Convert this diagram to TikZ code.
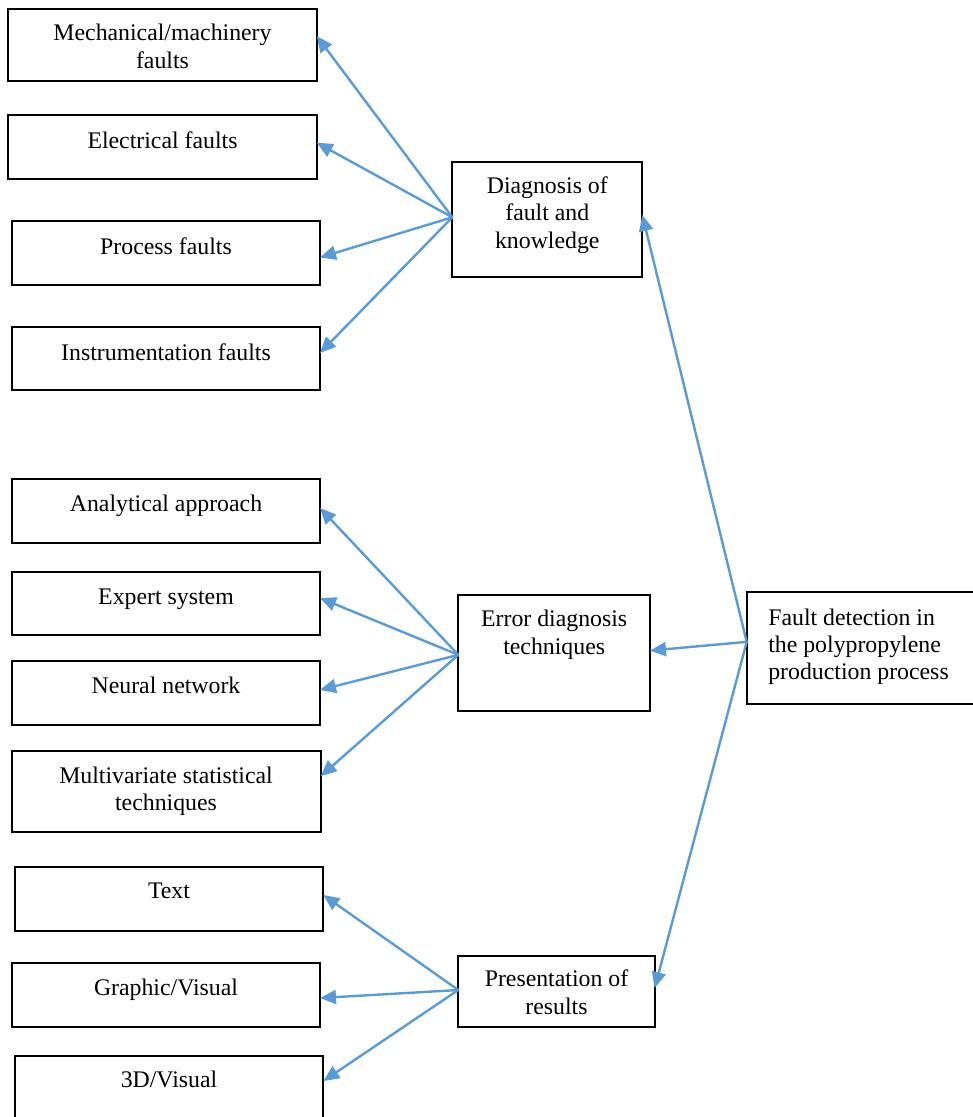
\documentclass[tikz,border=0pt]{standalone}
\usepackage{fontspec}
\setmainfont{Liberation Serif}
\usetikzlibrary{arrows.meta}
\definecolor{arrblue}{HTML}{5B9BD5}
\tikzset{
  box/.style={draw=black, line width=2pt, inner sep=0pt, outer sep=0pt, rectangle},
  txt/.style={inner sep=0pt, outer sep=0pt, anchor=base, font=\fontsize{23.8}{27.4}\selectfont},
  arr/.style={draw=arrblue, line width=2.4pt, -{Triangle[length=16pt,width=14pt]}},
}
\newcommand\bx[5]{\node[box, minimum width={(#4-#2)*1pt}, minimum height={(#5-#3)*1pt}] (#1) at ({(#2+#4)/2},{(#3+#5)/2}) {};}
\newcommand\tx[4]{\node[txt] (#1) at (#2,#3) {\begin{tabular}[t]{@{}c@{}}#4\end{tabular}};}
\begin{document}
\begin{tikzpicture}[x=1pt,y=-1pt]
\useasboundingbox (0,0) rectangle (973,1117);
% boxes
\bx{mech}{8.3}{9}{316.7}{80.7}
\bx{elec}{8.3}{115}{316.7}{179}
\bx{proc}{12}{221}{320}{285}
\bx{inst}{12}{327}{320}{390}
\bx{diag}{452.3}{161.7}{642.3}{276.7}
\bx{anal}{12}{479}{320}{543}
\bx{expert}{12}{572}{320}{635}
\bx{neural}{12}{661}{320}{725}
\bx{multi}{11.7}{750.7}{320.7}{831.7}
\bx{error}{458.3}{595}{650}{710.7}
\bx{fault}{746.7}{592.3}{980}{704}
\bx{text}{15}{866.7}{323.3}{930.7}
\bx{graphic}{12}{962.7}{320}{1026.7}
\bx{threed}{15}{1055.7}{323.3}{1125}
\bx{pres}{458.3}{955.7}{654.7}{1027.3}
% texts
\tx{mech-t}{162.5}{40.7}{Mechanical/machinery\\faults}
\tx{elec-t}{162.5}{148}{Electrical faults}
\tx{proc-t}{166}{254}{Process faults}
\tx{inst-t}{166}{360}{Instrumentation faults}
\tx{diag-t}{547.3}{193.3}{Diagnosis of\\fault and\\knowledge}
\tx{anal-t}{166}{511}{Analytical approach}
\tx{expert-t}{166}{604}{Expert system}
\tx{neural-t}{166}{693}{Neural network}
\tx{multi-t}{166}{783.3}{Multivariate statistical\\techniques}
\tx{error-t}{554.2}{626.7}{Error diagnosis\\techniques}
\node[txt, anchor=base west] (fault-t) at (768.3,625) {\begin{tabular}[t]{@{}l@{}}Fault detection in\\the polypropylene\\production process\end{tabular}};
\tx{text-t}{169}{898.7}{Text}
\tx{graphic-t}{166}{995}{Graphic/Visual}
\tx{threed-t}{169}{1087.7}{3D/Visual}
\tx{pres-t}{556.5}{986.7}{Presentation of\\results}
% connectors
\draw[arr] ([yshift=1.9pt]diag.west) -- ([yshift=8.8pt]mech.east);
\draw[arr] ([yshift=1.9pt]diag.west) -- ([yshift=4.3pt]elec.east);
\draw[arr] ([yshift=1.9pt]diag.west) -- ([yshift=-4.5pt]proc.east);
\draw[arr] ([yshift=1.9pt]diag.west) -- ([yshift=5.5pt]inst.east);
\draw[arr] ([yshift=-2pt]error.west) -- ([yshift=3pt]anal.east);
\draw[arr] ([yshift=-2pt]error.west) -- ([yshift=5.5pt]expert.east);
\draw[arr] ([yshift=-2pt]error.west) -- ([yshift=3pt]neural.east);
\draw[arr] ([yshift=-2pt]error.west) -- ([yshift=15pt]multi.east);
\draw[arr] ([yshift=1.5pt]pres.west) -- ([yshift=3.7pt]text.east);
\draw[arr] ([yshift=1.5pt]pres.west) -- ([yshift=-3.3pt]graphic.east);
\draw[arr] ([yshift=1.5pt]pres.west) -- ([yshift=9.3pt]threed.east);
\draw[arr] ([yshift=6.3pt]fault.west) -- ([yshift=4.2pt]diag.east);
\draw[arr] ([yshift=6.3pt]fault.west) -- ([yshift=2.2pt]error.east);
\draw[arr] ([yshift=6.3pt]fault.west) -- ([yshift=3.5pt]pres.east);
\end{tikzpicture}
\end{document}
